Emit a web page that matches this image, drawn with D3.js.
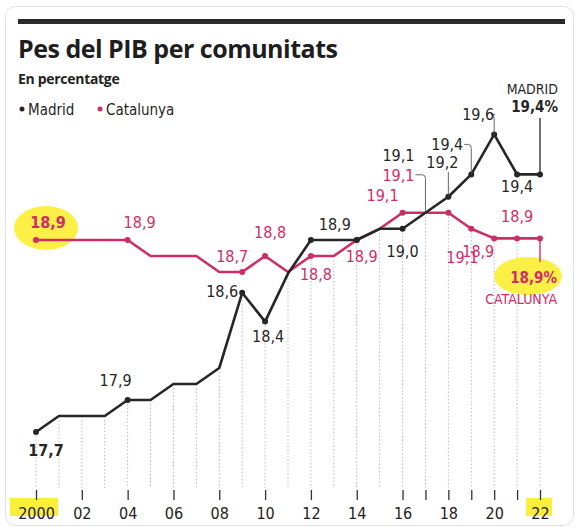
<!DOCTYPE html>
<html><head><meta charset="utf-8">
<script src="https://cdn.jsdelivr.net/npm/d3@7"></script>
<style>body{margin:0;background:#fff;font-family:"DejaVu Sans Condensed","Open Sans",sans-serif}</style>
</head><body><svg id="c" width="580" height="532"></svg>
<script>
const years = d3.range(2000, 2023);
const madrid = [17.7,17.8,17.8,17.8,17.9,17.9,18.0,18.0,18.1,18.57,18.39,18.69,18.9,18.9,18.9,18.97,18.97,19.07,19.17,19.31,19.56,19.31,19.31];
const catalunya = [18.9,18.9,18.9,18.9,18.9,18.8,18.8,18.8,18.7,18.7,18.8,18.7,18.8,18.8,18.9,18.97,19.07,19.07,19.07,18.97,18.91,18.91,18.91];
const tickYears = [2000,2002,2004,2006,2008,2010,2012,2014,2016,2017,2018,2019,2020,2021,2022];
const tickLabels = ["2000","02","04","06","08","10","12","14","16","","18","","20","","22"];
const dotYears = [2000,2004,2009,2010,2012,2014,2016,2018,2019,2020,2021,2022];
// [series, year, text, dx, dy, bold, leader]
const labels = [
 ["c",2000,"18,9",12,-12,true,0],["c",2004,"18,9",12,-12,false,0],["c",2009,"18,7",-10,-10,false,0],
 ["c",2010,"18,8",5,-18,false,0],["c",2012,"18,8",5,24,false,0],["c",2014,"18,9",5,22,false,0],
 ["c",2016,"19,1",-20,-12,false,0],["c",2017,"19,1",-27,-32,false,1],["c",2018,"19,1",14,50,false,0],
 ["c",2019,"18,9",7,28,false,0],["c",2021,"18,9",0,-16,false,0],
 ["m",2000,"17,7",10,24,true,0],["m",2004,"17,9",-12,-14,false,0],["m",2009,"18,6",-20,4,false,0],
 ["m",2010,"18,4",3,20,false,0],["m",2013,"18,9",1,-10,false,0],["m",2016,"19,0",0,28,false,0],
 ["m",2017,"19,1",-27,-52,false,0],["m",2018,"19,2",-6,-29,false,2],["m",2019,"19,4",-24,-24,false,1],
 ["m",2020,"19,6",-16,-14,false,1],["m",2021,"19,4",0,18,false,0]
];
const BLACK="#262626", PINK="#cf2d68";
const svg=d3.select("#c");
svg.append("rect").attr("x",5.5).attr("y",6.5).attr("width",568).attr("height",519).attr("rx",10).attr("fill","#fff").attr("stroke","#dfe3e6");
svg.append("rect").attr("x",18).attr("y",19).attr("width",547).attr("height",5).attr("fill","#2a2a2a");
svg.append("text").attr("x",18).attr("y",58).attr("font-family","Open Sans").attr("font-weight",700).attr("font-size",25).attr("fill","#1e1e1e").attr("letter-spacing",-0.5).text("Pes del PIB per comunitats");
svg.append("text").attr("x",18).attr("y",84).attr("font-family","Open Sans").attr("font-weight",700).attr("font-size",14).attr("fill","#222").attr("letter-spacing",-0.3).text("En percentatge");
const lg=svg.append("g").attr("font-size",15).attr("fill",BLACK);
lg.append("circle").attr("cx",22).attr("cy",109).attr("r",2.5).attr("fill",BLACK);
lg.append("text").attr("x",28).attr("y",115).text("Madrid");
lg.append("circle").attr("cx",100).attr("cy",109).attr("r",2.5).attr("fill",PINK);
lg.append("text").attr("x",106).attr("y",115).text("Catalunya");

const x=d3.scaleLinear().domain([2000,2022]).range([36,540]);
const y=d3.scaleLinear().domain([17.7,18.9]).range([432,240]);
svg.append("g").selectAll("line").data(years).join("line")
 .attr("x1",d=>x(d)).attr("x2",d=>x(d)).attr("y1",d=>Math.max(y(madrid[d-2000]),y(catalunya[d-2000]))+4).attr("y2",488)
 .attr("stroke","#bbb").attr("stroke-dasharray","1.5,2").attr("stroke-width",1);
const ax=d3.axisBottom(x).tickValues(tickYears).tickFormat((d,i)=>tickLabels[i]).tickSize(10).tickPadding(8);
const ag=svg.append("g").attr("transform","translate(0,490)").call(ax);
ag.select(".domain").remove();
ag.selectAll(".tick line").attr("stroke","#333").attr("stroke-width",1.3);
ag.selectAll("text").attr("font-size",16).attr("fill","#222").attr("font-family","DejaVu Sans Condensed");
const hl=[[x(2000)+10,y(18.9)-12,32,22],[x(2022)-12,y(18.9)+36,34,19]];
svg.append("g").selectAll("ellipse").data(hl).join("ellipse").attr("cx",d=>d[0]).attr("cy",d=>d[1]).attr("rx",d=>d[2]).attr("ry",d=>d[3]).attr("fill","#fcef3c").attr("opacity",0.95);
svg.append("rect").attr("x",10).attr("y",498).attr("width",48).attr("height",18).attr("fill","#fcef3c");
svg.append("rect").attr("x",526).attr("y",498).attr("width",26).attr("height",18).attr("fill","#fcef3c");
ag.raise();
svg.append("line").attr("x1",x(2022)).attr("x2",x(2022)).attr("y1",y(madrid[22])).attr("y2",118).attr("stroke",BLACK).attr("stroke-width",1.3);
svg.append("line").attr("x1",x(2022)).attr("x2",x(2022)).attr("y1",y(catalunya[22])).attr("y2",262).attr("stroke",PINK).attr("stroke-width",1.3);
const line=d3.line().x((d,i)=>x(years[i])).y(d=>y(d));
[[catalunya,PINK],[madrid,BLACK]].forEach(([s,c])=>{
 svg.append("path").datum(s).attr("d",line).attr("fill","none").attr("stroke",c).attr("stroke-width",2.6).attr("stroke-linejoin","round");
 svg.append("g").selectAll("circle").data(dotYears).join("circle").attr("cx",d=>x(d)).attr("cy",d=>y(s[d-2000])).attr("r",3).attr("fill",c);
});
const lgp=svg.append("g").attr("font-size",16).attr("text-anchor","middle");
labels.forEach(([s,yr,t,dx,dy,b,ld])=>{
 const v=(s==="m"?madrid:catalunya)[yr-2000], c=s==="m"?BLACK:PINK;
 const px=x(yr),py=y(v),tx=px+dx,ty=py+dy;
 if(ld===1){
  lgp.append("path").attr("d",`M${tx+17},${ty-6}H${px-3}Q${px},${ty-6} ${px},${ty-2}V${py}`).attr("fill","none").attr("stroke","#444").attr("stroke-width",0.8);
 } else if(ld===2){
  lgp.append("line").attr("x1",px).attr("x2",px).attr("y1",ty+4).attr("y2",py).attr("stroke","#444").attr("stroke-width",0.8);
 }
 lgp.append("text").attr("x",tx).attr("y",ty).attr("fill",c).attr("font-weight",b?700:400).text(t);
});
svg.append("text").attr("x",558).attr("y",94).attr("text-anchor","end").attr("font-size",14).attr("fill",BLACK).text("MADRID");
svg.append("text").attr("x",558).attr("y",112).attr("text-anchor","end").attr("font-size",15).attr("font-weight",700).attr("fill",BLACK).text("19,4%");
svg.append("text").attr("x",557).attr("y",283).attr("text-anchor","end").attr("font-size",15).attr("font-weight",700).attr("fill",PINK).text("18,9%");
svg.append("text").attr("x",557).attr("y",304).attr("text-anchor","end").attr("font-size",14).attr("fill",PINK).text("CATALUNYA");
</script></body></html>
